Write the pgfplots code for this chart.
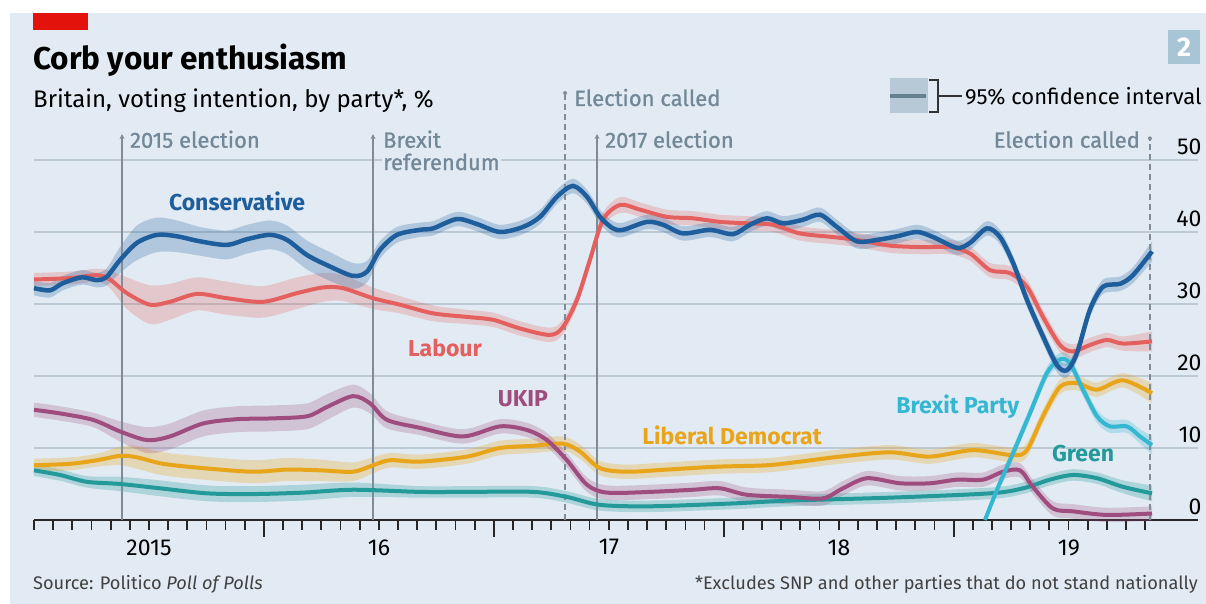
\documentclass[border=0pt]{standalone}
\usepackage{fontspec}
\setmainfont{Fira Sans}
\newfontfamily\evfont[FakeBold=1]{Fira Sans}
\usepackage{pgfplots}
\pgfplotsset{compat=1.18}
\usepackage{pgfplotstable}
\usepgfplotslibrary{fillbetween}
\usetikzlibrary{arrows.meta}

\definecolor{bg}{HTML}{E2EBF3}
\definecolor{gridc}{HTML}{BCCAD5}
\definecolor{evl}{HTML}{7F8C97}
\definecolor{evt}{HTML}{728898}
\definecolor{econred}{HTML}{E3120B}
\definecolor{boxc}{HTML}{A8C5D6}
\definecolor{con}{HTML}{1F5E9C}
\definecolor{lab}{HTML}{E3605E}
\definecolor{ukip}{HTML}{9E4D7E}
\definecolor{ld}{HTML}{E9A51A}
\definecolor{grn}{HTML}{23999A}
\definecolor{bxp}{HTML}{35B7D1}
\definecolor{legbox}{HTML}{B7C9D6}
\definecolor{legline}{HTML}{64808F}

\pgfplotstableread{
t v e
2015.000 32.2 1.0
2015.070 31.9 1.0
2015.126 32.9 1.0
2015.209 33.7 1.0
2015.274 33.3 1.0
2015.317 33.8 1.2
2015.374 36.1 1.8
2015.448 38.5 2.4
2015.535 39.6 2.4
2015.622 39.4 2.2
2015.722 38.7 2.0
2015.839 38.2 2.0
2015.926 39.0 2.0
2016.026 39.6 2.0
2016.100 38.9 2.0
2016.187 36.8 2.0
2016.287 35.2 2.0
2016.387 33.9 1.8
2016.448 34.5 1.5
2016.504 37.5 1.2
2016.578 39.6 1.1
2016.678 40.3 1.0
2016.735 40.5 1.0
2016.839 41.8 1.0
2016.926 41.1 1.0
2017.026 40.0 1.0
2017.126 40.7 1.0
2017.200 42.1 1.0
2017.274 44.9 1.0
2017.343 46.4 1.0
2017.404 44.9 1.0
2017.461 42.1 1.0
2017.517 40.5 1.0
2017.561 40.3 1.0
2017.665 41.4 1.0
2017.735 41.0 1.0
2017.822 39.8 1.0
2017.939 40.3 1.0
2018.039 39.7 1.0
2018.113 41.0 1.0
2018.187 41.9 1.0
2018.257 41.2 1.0
2018.343 41.7 1.0
2018.417 42.4 1.0
2018.491 40.7 1.0
2018.578 38.7 1.0
2018.665 38.9 1.0
2018.752 39.4 1.0
2018.839 40.0 1.0
2018.909 39.3 1.0
2019.013 37.8 1.0
2019.070 38.5 1.0
2019.143 40.5 1.0
2019.200 39.3 1.0
2019.257 35.7 1.0
2019.317 30.6 1.0
2019.387 25.5 1.0
2019.448 21.5 1.0
2019.491 20.8 1.0
2019.535 23.2 1.0
2019.591 29.2 1.0
2019.648 32.4 1.0
2019.722 32.8 1.0
2019.778 34.0 1.1
2019.861 37.3 1.4
}\con

\pgfplotstableread{
t v e
2015.000 33.4 0.9
2015.157 33.6 0.9
2015.274 34.0 0.9
2015.330 33.4 1.2
2015.404 31.5 2.2
2015.504 29.9 2.7
2015.591 30.3 2.5
2015.709 31.4 2.3
2015.839 30.8 2.3
2015.996 30.3 2.2
2016.143 31.5 2.2
2016.257 32.3 2.0
2016.343 32.2 1.8
2016.474 30.8 1.5
2016.591 29.9 1.2
2016.735 28.7 1.1
2016.883 28.2 1.0
2016.996 27.8 1.0
2017.113 26.6 1.0
2017.243 25.7 1.0
2017.300 26.8 1.0
2017.361 30.6 1.0
2017.417 36.1 1.0
2017.474 41.7 1.0
2017.548 43.75 1.1
2017.635 43.1 1.0
2017.752 42.1 1.0
2017.865 41.9 1.0
2017.983 41.4 1.0
2018.100 41.2 1.0
2018.213 41.0 1.0
2018.330 39.8 1.0
2018.474 39.3 1.0
2018.578 38.9 1.0
2018.722 38.1 1.0
2018.865 37.9 1.0
2018.983 37.9 1.0
2019.070 37.0 1.0
2019.157 34.7 1.0
2019.243 34.3 1.0
2019.317 32.4 1.0
2019.387 28.2 1.0
2019.461 24.3 1.0
2019.517 23.4 1.0
2019.591 24.3 1.0
2019.665 25.0 1.0
2019.735 24.5 1.0
2019.861 24.8 1.4
}\lab

\pgfplotstableread{
t v e
2015.000 15.3 1.0
2015.113 14.8 1.0
2015.257 13.9 1.0
2015.374 12.3 1.4
2015.491 11.1 1.8
2015.591 11.6 1.8
2015.735 13.4 1.8
2015.883 14.0 1.8
2016.026 14.1 1.8
2016.187 14.4 1.8
2016.274 15.7 1.8
2016.387 17.2 1.6
2016.461 16.2 1.4
2016.535 13.9 1.2
2016.678 12.8 1.0
2016.865 11.6 1.0
2017.026 13.0 1.0
2017.143 12.5 1.0
2017.230 11.1 1.0
2017.317 8.3 1.0
2017.404 4.9 1.0
2017.491 3.8 1.0
2017.678 3.9 1.0
2017.865 4.2 1.0
2017.983 4.4 1.0
2018.100 3.5 1.0
2018.287 3.2 1.0
2018.430 3.0 1.0
2018.517 4.4 1.0
2018.622 5.8 1.0
2018.765 5.1 1.0
2018.896 5.1 1.0
2019.013 5.6 1.0
2019.126 5.6 1.0
2019.213 6.7 1.0
2019.287 6.9 1.0
2019.343 4.6 1.0
2019.430 1.6 1.0
2019.517 1.2 1.0
2019.665 0.7 1.0
2019.861 0.9 1.0
}\ukip

\pgfplotstableread{
t v e
2015.000 7.6 0.9
2015.157 7.8 0.9
2015.274 8.3 0.9
2015.374 8.9 1.3
2015.448 8.7 1.6
2015.561 7.8 1.6
2015.735 7.2 1.6
2015.952 6.7 1.6
2016.100 7.0 1.6
2016.243 6.9 1.5
2016.387 6.7 1.3
2016.474 7.6 1.1
2016.548 8.3 1.0
2016.678 8.1 1.0
2016.883 8.8 1.0
2017.026 10.0 1.0
2017.170 10.3 1.0
2017.300 10.6 1.0
2017.374 9.5 1.0
2017.461 7.2 1.0
2017.578 6.7 1.0
2017.752 7.0 1.0
2017.970 7.4 1.0
2018.187 7.6 1.0
2018.330 8.1 1.0
2018.504 8.8 1.0
2018.722 9.4 1.0
2018.896 8.8 1.0
2019.083 9.7 1.0
2019.257 9.0 1.0
2019.317 9.7 1.0
2019.387 14.4 1.0
2019.461 18.5 1.0
2019.535 19.0 1.0
2019.622 18.1 1.0
2019.735 19.4 1.0
2019.861 17.6 1.4
}\ld

\pgfplotstableread{
t v e
2015.000 6.9 0.8
2015.113 6.25 0.8
2015.230 5.3 0.8
2015.374 5.0 1.0
2015.548 4.4 1.1
2015.752 3.7 1.1
2015.952 3.6 1.1
2016.170 3.8 1.1
2016.387 4.2 1.0
2016.678 3.9 0.8
2016.883 3.9 0.8
2017.170 3.9 0.8
2017.317 3.2 0.8
2017.461 2.1 0.8
2017.678 1.9 0.8
2018.039 2.3 0.8
2018.287 2.7 0.8
2018.722 3.1 0.8
2019.157 3.7 0.8
2019.300 4.4 0.8
2019.417 5.6 0.8
2019.517 6.25 0.8
2019.622 5.8 0.8
2019.735 4.6 0.9
2019.861 3.7 1.1
}\grn

\pgfplotstableread{
t v e
2019.135 0.0 0.3
2019.187 4.2 0.8
2019.257 9.3 0.9
2019.330 14.8 0.9
2019.404 20.4 0.9
2019.461 22.3 0.9
2019.504 21.8 0.9
2019.561 18.1 0.9
2019.622 14.4 0.9
2019.678 13.0 0.9
2019.752 13.0 0.9
2019.809 11.6 1.0
2019.861 10.4 1.3
}\bxp

\newcommand{\fs}[1]{\fontsize{#1}{#1}\selectfont}

\begin{document}
\begin{tikzpicture}
\begin{axis}[
  set layers,
  at={(34pt,84pt)}, anchor=south west,
  scale only axis, width=1164pt, height=360pt,
  xmin=2015, xmax=2020.061, ymin=0, ymax=50,
  clip=false,
  axis x line=bottom, axis y line=right,
  x axis line style={black!85, line width=1.6pt, -},
  y axis line style={draw=none},
  ytick={0,10,20,30,40,50},
  ymajorgrids, grid style={gridc, line width=1.5pt},
  ytick style={draw=none},
  yticklabel style={anchor=base east, font=\fs{23}, xshift=7pt, yshift=5pt},
  xtick={2015.5,2016.5,2017.5,2018.5,2019.5},
  xticklabels={2015,16,17,18,19},
  xticklabel style={font=\fs{23}, yshift=-16pt},
  major tick length=0pt,
  minor xtick={2015,2015.08333,...,2019.84},
  minor tick length=10pt,
  tick align=outside,
  xtick style={black!85, line width=1.8pt},
  extra x ticks={2016,2017,2018,2019},
  extra x tick labels={,,,},
  extra x tick style={major tick length=17pt, grid=none},
  /pgf/number format/assume math mode=true,
]
\begin{pgfonlayer}{axis background}
\fill[white] (rel axis cs:-0.029210,-0.233333) rectangle (rel axis cs:1.006873,1.444444);
\fill[bg] (rel axis cs:-0.020619,-0.233333) rectangle (rel axis cs:1.006873,1.408333);
\end{pgfonlayer}
% event lines
\draw[evl, line width=1.5pt, -{Stealth[length=5pt,width=5pt]}] (axis cs:2015.383,0) -- (axis cs:2015.383,53.6);
\draw[evl, line width=1.5pt, -{Stealth[length=5pt,width=5pt]}] (axis cs:2016.474,0) -- (axis cs:2016.474,53.6);
\draw[evl, line width=1.5pt, -{Stealth[length=5pt,width=5pt]}] (axis cs:2017.448,0) -- (axis cs:2017.448,53.6);
\draw[evl, line width=1.3pt, dash pattern=on 6pt off 4pt] (axis cs:2017.309,0) -- (axis cs:2017.309,59.0);
\draw[evl, line width=1.3pt, dash pattern=on 6pt off 4pt] (axis cs:2019.852,0) -- (axis cs:2019.852,52.8);
\fill[evl] (axis cs:2017.309,59.3) circle (2pt);
\fill[evl] (axis cs:2019.852,53.0) circle (2pt);
\node[anchor=base west, inner sep=0pt, font=\fs{22}\evfont, text=evt] at (axis cs:2015.417,51.7) {2015 election};
\node[anchor=base west, inner sep=0pt, font=\fs{22}\evfont, text=evt] at (axis cs:2016.517,51.7) {Brexit};
\node[anchor=base west, inner sep=1pt, font=\fs{22}\evfont, text=evt, fill=bg] at (axis cs:2016.513,48.6) {referendum};
\node[anchor=base west, inner sep=0pt, font=\fs{22}\evfont, text=evt] at (axis cs:2017.348,57.5) {Election called};
\node[anchor=base west, inner sep=0pt, font=\fs{22}\evfont, text=evt] at (axis cs:2017.483,51.7) {2017 election};
\node[anchor=base east, inner sep=0pt, font=\fs{22}\evfont, text=evt] at (axis cs:2019.809,51.7) {Election called};

% bands
\addplot[draw=none, smooth, name path=gu, forget plot] table[x=t, y expr=\thisrow{v}+\thisrow{e}] {\grn};
\addplot[draw=none, smooth, name path=gl, forget plot] table[x=t, y expr=\thisrow{v}-\thisrow{e}] {\grn};
\addplot[fill=grn, fill opacity=0.28, draw=none, forget plot] fill between[of=gu and gl];
\addplot[draw=none, smooth, name path=lu, forget plot] table[x=t, y expr=\thisrow{v}+\thisrow{e}] {\ld};
\addplot[draw=none, smooth, name path=ll, forget plot] table[x=t, y expr=\thisrow{v}-\thisrow{e}] {\ld};
\addplot[fill=ld, fill opacity=0.28, draw=none, forget plot] fill between[of=lu and ll];
\addplot[draw=none, smooth, name path=uu, forget plot] table[x=t, y expr=\thisrow{v}+\thisrow{e}] {\ukip};
\addplot[draw=none, smooth, name path=ul, forget plot] table[x=t, y expr=\thisrow{v}-\thisrow{e}] {\ukip};
\addplot[fill=ukip, fill opacity=0.25, draw=none, forget plot] fill between[of=uu and ul];
\addplot[draw=none, smooth, name path=bu, forget plot] table[x=t, y expr=\thisrow{v}+\thisrow{e}] {\bxp};
\addplot[draw=none, smooth, name path=bl, forget plot] table[x=t, y expr=\thisrow{v}-\thisrow{e}] {\bxp};
\addplot[fill=bxp, fill opacity=0.28, draw=none, forget plot] fill between[of=bu and bl];
\addplot[draw=none, smooth, name path=ru, forget plot] table[x=t, y expr=\thisrow{v}+\thisrow{e}] {\lab};
\addplot[draw=none, smooth, name path=rl, forget plot] table[x=t, y expr=\thisrow{v}-\thisrow{e}] {\lab};
\addplot[fill=lab, fill opacity=0.25, draw=none, forget plot] fill between[of=ru and rl];
\addplot[draw=none, smooth, name path=cu, forget plot] table[x=t, y expr=\thisrow{v}+\thisrow{e}] {\con};
\addplot[draw=none, smooth, name path=cl, forget plot] table[x=t, y expr=\thisrow{v}-\thisrow{e}] {\con};
\addplot[fill=con, fill opacity=0.25, draw=none, forget plot] fill between[of=cu and cl];

% lines
\addplot[grn, line width=4pt, smooth] table[x=t, y=v] {\grn};
\addplot[ld, line width=4pt, smooth] table[x=t, y=v] {\ld};
\addplot[ukip, line width=4pt, smooth] table[x=t, y=v] {\ukip};
\addplot[bxp, line width=4pt, smooth] table[x=t, y=v] {\bxp};
\addplot[lab, line width=4pt, smooth] table[x=t, y=v] {\lab};
\addplot[con, line width=4.5pt, smooth] table[x=t, y=v] {\con};

% series labels
\node[font=\fs{23}\bfseries, text=con] at (axis cs:2015.883,44.3) {Conservative};
\node[font=\fs{23}\bfseries, text=lab] at (axis cs:2016.787,23.9) {Labour};
\node[font=\fs{23}\bfseries, text=ukip] at (axis cs:2017.126,16.9) {UKIP};
\node[font=\fs{23}\bfseries, text=ld] at (axis cs:2018.035,11.8) {Liberal Democrat};
\node[font=\fs{23}\bfseries, text=bxp] at (axis cs:2019.017,15.7) {Brexit Party};
\node[font=\fs{23}\bfseries, text=grn] at (axis cs:2019.561,9.2) {Green};
\end{axis}
\fill[econred] (33pt,574pt) rectangle (88pt,591pt);
\fill[boxc] (1168pt,540pt) rectangle (1200pt,574pt);
\node[white, font=\fs{27}\bfseries] at (1184pt,557pt) {2};
\node[anchor=base west, inner sep=0pt, font=\fs{31.5}\bfseries] at (33pt,534pt) {Corb your enthusiasm};
\node[anchor=base west, inner sep=0pt, font=\fs{24}] at (33pt,496pt) {Britain, voting intention, by party*, \%};
% legend
\fill[legbox] (890pt,491pt) rectangle (928pt,526pt);
\draw[legline, line width=4pt] (890pt,508pt) -- (926pt,508pt);
\draw[black!80, line width=1.5pt] (929pt,524pt) -- (938pt,524pt) -- (938pt,492pt) -- (929pt,492pt);
\draw[black!80, line width=1.5pt] (938pt,508pt) -- (962pt,508pt);
\node[anchor=base west, inner sep=0pt, font=\fs{22}] at (965pt,499pt) {95\% confidence interval};
% footer
\node[anchor=base west, inner sep=0pt, font=\fs{18.2}, text=black!75] at (33pt,14pt) {Source: Politico \textit{Poll of Polls}};
\node[anchor=base east, inner sep=0pt, font=\fs{18.2}, text=black!75] at (1198pt,14pt) {*Excludes SNP and other parties that do not stand nationally};
\end{tikzpicture}
\end{document}
